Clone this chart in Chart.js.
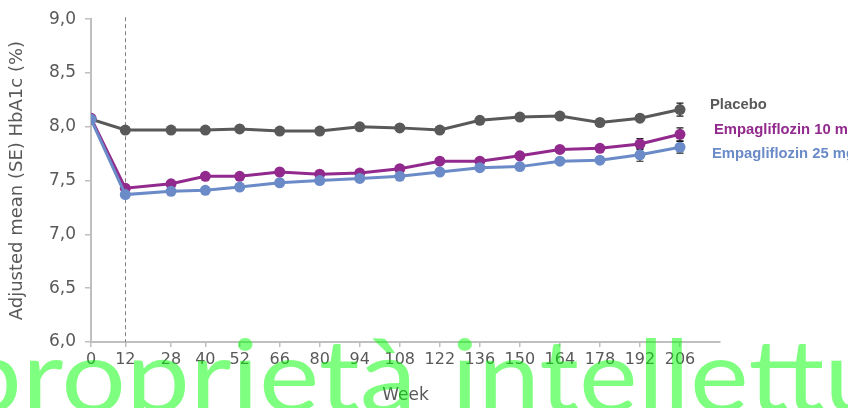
<!DOCTYPE html>
<html>
<head>
<meta charset="utf-8">
<script src="https://cdn.jsdelivr.net/npm/chart.js@4/dist/chart.umd.min.js"></script>
<style>
  html, body { margin: 0; padding: 0; background: #ffffff; }
  #wrap { width: 848px; height: 408px; position: relative; }
</style>
</head>
<body>
<div id="wrap"><canvas id="c" width="848" height="408"></canvas></div>
<script>
// Study weeks (x positions on a linear week axis)
const weeks = [0, 12, 28, 40, 52, 66, 80, 94, 108, 122, 136, 150, 164, 178, 192, 206];

// Adjusted mean HbA1c (%) by arm
const placebo = [8.07, 7.97, 7.97, 7.97, 7.98, 7.96, 7.96, 8.00, 7.99, 7.97, 8.06, 8.09, 8.10, 8.04, 8.08, 8.16];
const empa10  = [8.08, 7.43, 7.47, 7.54, 7.54, 7.58, 7.56, 7.57, 7.61, 7.68, 7.68, 7.73, 7.79, 7.80, 7.84, 7.93];
const empa25  = [8.07, 7.37, 7.40, 7.41, 7.44, 7.48, 7.50, 7.52, 7.54, 7.58, 7.62, 7.63, 7.68, 7.69, 7.74, 7.81];

// Standard errors (only where the bars extend past the markers)
const sePlacebo = [null, null, null, null, null, null, null, null, null, null, null, null, null, null, null, 0.06];
const seEmpa10  = [null, null, null, null, null, null, null, null, null, null, null, null, null, null, 0.05, 0.06];
const seEmpa25  = [null, null, null, null, null, null, null, null, null, null, null, null, null, null, 0.06, 0.055];

const seriesNames = ['Placebo', 'Empagliflozin 10 mg', 'Empagliflozin 25 mg'];
const yTickValues = [6.0, 6.5, 7.0, 7.5, 8.0, 8.5, 9.0];
const baselineWeek = 12;
const watermarkWords = ['proprietà', 'intellettuale'];

const FONT = '"DejaVu Sans", sans-serif';
const GREY_TEXT = '#595959';
const AXIS = '#bfbfbf';

function pts(vals) { return weeks.map((w, i) => ({ x: w, y: vals[i] })); }

const colors = ['#595959', '#922a8e', '#6a8bc8'];
const seArrays = [sePlacebo, seEmpa10, seEmpa25];

const ds = [placebo, empa10, empa25].map((vals, i) => ({
  label: seriesNames[i],
  data: pts(vals),
  borderColor: colors[i],
  backgroundColor: colors[i],
  borderWidth: 3,
  pointRadius: 5.5,
  pointBorderWidth: 0,
  pointHoverRadius: 5.5,
  tension: 0,
  order: 2 - i,
  se: seArrays[i]
}));

const extras = {
  id: 'extras',
  beforeDatasetsDraw(chart) {
    const { ctx, chartArea, scales: { x, y } } = chart;
    // dashed reference line at the end of the initial treatment phase
    const bx = Math.round(x.getPixelForValue(baselineWeek)) + 0.5;
    ctx.save();
    ctx.strokeStyle = '#7f7f7f';
    ctx.lineWidth = 1;
    ctx.setLineDash([4, 3]);
    ctx.beginPath();
    ctx.moveTo(bx, chartArea.top - 2);
    ctx.lineTo(bx, chartArea.bottom);
    ctx.stroke();
    ctx.restore();

    // error bars behind the markers
    ctx.save();
    ctx.strokeStyle = '#1a1a1a';
    ctx.lineWidth = 1.2;
    chart.data.datasets.forEach(d => {
      d.data.forEach((p, i) => {
        const se = d.se[i];
        if (se == null) return;
        const px = x.getPixelForValue(p.x);
        const y1 = y.getPixelForValue(p.y + se);
        const y2 = y.getPixelForValue(p.y - se);
        ctx.beginPath();
        ctx.moveTo(px, y1); ctx.lineTo(px, y2);
        ctx.moveTo(px - 3.5, y1); ctx.lineTo(px + 3.5, y1);
        ctx.moveTo(px - 3.5, y2); ctx.lineTo(px + 3.5, y2);
        ctx.stroke();
      });
    });
    ctx.restore();
  },
  afterDraw(chart) {
    const { ctx, scales: { x, y } } = chart;
    // series names beside the last point
    const offs = [{ dx: 30, dy: -4.5 }, { dx: 34, dy: -4 }, { dx: 32, dy: 7 }];
    ctx.save();
    ctx.font = 'bold 14.8px "Liberation Sans", Arial, sans-serif';
    ctx.textBaseline = 'middle';
    ctx.textAlign = 'left';
    chart.data.datasets.forEach((d, i) => {
      const last = d.data[d.data.length - 1];
      ctx.fillStyle = colors[i];
      ctx.fillText(d.label, x.getPixelForValue(last.x) + offs[i].dx, y.getPixelForValue(last.y) + offs[i].dy);
    });
    ctx.restore();

    // translucent green overlay text; each word stretched so a leading part spans [left, right]
    ctx.save();
    ctx.font = '100px Lato, sans-serif';
    ctx.textBaseline = 'alphabetic';
    ctx.fillStyle = 'rgba(0, 255, 0, 0.5)';
    const fitWord = (word, part, left, right) => {
      const m = ctx.measureText(part);
      const ink = m.actualBoundingBoxLeft + m.actualBoundingBoxRight;
      const sx = (right - left) / ink;
      ctx.save();
      ctx.translate(left + m.actualBoundingBoxLeft * sx, 412);
      ctx.scale(sx, 1);
      ctx.fillText(word, 0, 0);
      ctx.restore();
    };
    fitWord(watermarkWords[0], watermarkWords[0], -34, 410);
    fitWord(watermarkWords[1], 'intellett', 457, 824);
    ctx.restore();
  }
};

new Chart(document.getElementById('c'), {
  type: 'line',
  data: { datasets: ds },
  options: {
    responsive: false,
    animation: false,
    events: [],
    layout: { padding: { top: 16, right: 128, bottom: 0, left: 0 } },
    plugins: { legend: { display: false }, tooltip: { enabled: false } },
    scales: {
      x: {
        type: 'linear',
        min: 0,
        max: 220,
        afterBuildTicks: s => { s.ticks = weeks.map(v => ({ value: v })); },
        afterFit: s => { s.height = 66; },
        grid: { drawOnChartArea: false, color: AXIS, tickLength: 5, lineWidth: 1.5 },
        border: { color: AXIS, width: 2 },
        ticks: {
          color: GREY_TEXT,
          font: { family: FONT, size: 16 },
          maxRotation: 0,
          autoSkip: false,
          padding: 3,
          callback: v => String(v)
        },
        title: {
          display: true,
          text: 'Week',
          color: GREY_TEXT,
          font: { family: FONT, size: 17 },
          padding: { top: 0, bottom: 2 }
        }
      },
      y: {
        min: 6,
        max: 9,
        afterBuildTicks: s => { s.ticks = yTickValues.map(v => ({ value: v })); },
        afterFit: s => { s.width = 91; },
        grid: { drawOnChartArea: false, color: AXIS, tickLength: 6, lineWidth: 1.5 },
        border: { color: AXIS, width: 2 },
        ticks: {
          color: GREY_TEXT,
          font: { family: FONT, size: 17 },
          padding: 9,
          callback: v => v.toFixed(1).replace('.', ',')
        },
        title: {
          display: true,
          text: 'Adjusted mean (SE) HbA1c (%)',
          color: GREY_TEXT,
          font: { family: FONT, size: 18 },
          padding: { top: 7, bottom: 0 }
        }
      }
    }
  },
  plugins: [extras]
});
</script>
</body>
</html>
